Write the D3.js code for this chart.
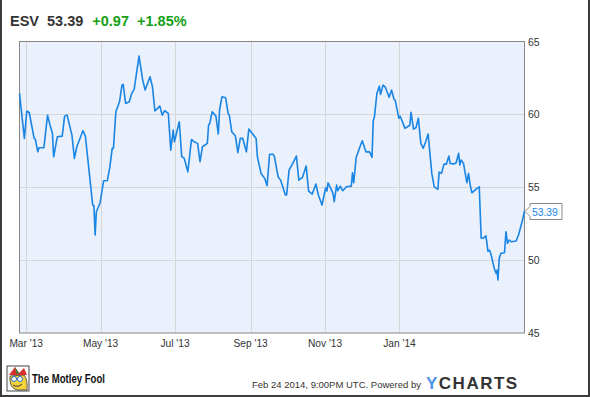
<!DOCTYPE html>
<html>
<head>
<meta charset="utf-8">
<script src="https://cdn.jsdelivr.net/npm/d3@7"></script>
<style>
  body { margin: 0; background: #fff; }
  svg { display: block; font-family: "Liberation Sans", Arial, sans-serif; }
</style>
</head>
<body>
<div id="chart"></div>
<script>
// days since Feb 23 2013 (noon) and closing price
const days = [0, 4, 6, 8, 12, 13, 15, 16, 20, 23, 25, 27, 28, 30, 31, 35, 37, 39, 43, 45,
  47, 52, 54, 60, 61, 62, 63, 66, 69, 72, 74, 76, 77, 79, 82, 84, 85, 87, 90, 92,
  94, 98, 101, 103, 107, 109, 111, 115, 117, 119, 122, 124, 126, 127, 131, 133, 135, 138, 141, 143,
  146, 148, 150, 154, 155, 156, 158, 161, 163, 164, 166, 169, 171, 172, 174, 177, 179, 181, 183, 186,
  188, 194, 195, 198, 201, 203, 205, 208, 209, 212, 214, 218, 219, 221, 224, 227, 229, 232, 235, 237,
  240, 243, 245, 248, 251, 252, 253, 257, 258, 260, 261, 263, 265, 268, 272, 273, 274, 276, 279, 281,
  284, 287, 289, 290, 291, 293, 295, 296, 298, 300, 303, 305, 307, 308, 311, 312, 313, 316, 319, 320,
  321, 323, 325, 327, 329, 331, 333, 335, 338, 340, 343, 344, 346, 348, 350, 352, 353, 356, 358, 360,
  361, 362, 364, 365.4, 366.8, 368.1, 369.5, 370.9, 375, 376.9, 378.5, 379.9, 382.4, 384, 385.3, 386.7, 389.4, 390.8, 391.6, 392.2,
  393.3, 394.7, 397.6, 398.8, 400.1, 401.5, 403.1, 407.2, 409.1, 412.4, 414];
const prices = [61.44, 58.35, 60.23, 60.11, 58.35, 58.28, 57.43, 57.71, 57.71, 59.95, 59.27, 58.70, 57.09, 58.01, 58.46, 58.51, 59.88, 59.95, 58.58, 56.98,
  57.78, 58.88, 58.51, 53.78, 53.73, 51.72, 53.32, 53.90, 55.45, 55.46, 56.34, 57.67, 57.67, 60.18, 60.86, 62.01, 62.06, 60.75, 60.86, 61.44,
  61.71, 64.00, 62.35, 61.67, 62.58, 61.89, 60.23, 60.57, 59.95, 60.25, 60.07, 57.55, 58.92, 58.12, 59.49, 57.09, 57.00, 56.06, 58.28, 58.12,
  58.01, 56.75, 57.78, 58.01, 59.27, 59.38, 60.18, 59.88, 58.65, 60.30, 61.21, 61.14, 60.07, 59.95, 58.81, 58.51, 57.37, 58.35, 58.35, 57.43,
  58.99, 58.35, 57.09, 55.95, 55.61, 55.10, 57.26, 57.26, 57.09, 55.72, 55.49, 54.47, 54.47, 56.18, 56.64, 57.14, 55.49, 55.68, 56.45, 54.74,
  54.53, 55.22, 54.47, 53.78, 54.97, 54.74, 55.31, 54.58, 54.01, 55.15, 54.76, 55.08, 54.76, 55.03, 55.08, 55.99, 55.31, 57.04, 57.74, 58.19,
  57.43, 57.43, 57.05, 59.56, 59.84, 61.44, 61.94, 61.37, 62.01, 61.85, 61.17, 61.67, 61.03, 60.98, 59.73, 59.88, 59.68, 59.04, 59.20, 59.27,
  60.14, 58.99, 59.08, 59.73, 58.01, 57.67, 58.12, 58.65, 55.95, 55.03, 54.86, 56.04, 55.95, 56.59, 56.59, 57.14, 56.64, 56.59, 56.68, 57.33,
  56.52, 56.87, 56.64, 55.95, 55.31, 55.95, 55.15, 54.62, 54.92, 55.03, 51.50, 51.50, 51.67, 50.62, 50.69, 50.35, 49.37, 49.09, 49.32, 48.64,
  50.12, 50.47, 50.51, 51.95, 51.15, 51.38, 51.26, 51.31, 51.72, 52.75, 53.39];
const yTicks = [45, 50, 55, 60, 65];
const xTickLabels = ["Mar '13", "May '13", "Jul '13", "Sep '13", "Nov '13", "Jan '14"];
const ticker = "ESV";
const lastPrice = "53.39";
const change = "+0.97";
const changePct = "+1.85%";
const footerText = "Feb 24 2014, 9:00PM UTC. Powered by";

const width = 590, height = 397;
const plot = { left: 19.5, right: 524.5, top: 41.5, bottom: 333 };

const start = new Date(2013, 1, 23, 12);
const data = days.map((d, i) => ({ date: new Date(start.getTime() + d * 864e5), price: prices[i] }));

const svg = d3.select('#chart').append('svg')
    .attr('width', width)
    .attr('height', height);

const x = d3.scaleTime()
    .domain([start, new Date(start.getTime() + 414 * 864e5)])
    .range([plot.left, plot.right]);
const y = d3.scaleLinear()
    .domain([45, 65])
    .range([plot.bottom, plot.top]);

const fmtMonth = d3.timeFormat("%b '%y");
const monthTicks = x.ticks(d3.timeMonth.every(2))
    .filter(d => xTickLabels.includes(fmtMonth(d)));

// outer frame
svg.append('path')
    .attr('d', `M1,0 V${height - 1} H${width - 1} V0`)
    .attr('fill', 'none')
    .attr('stroke', '#3c3c3c')
    .attr('stroke-width', 2);

// header
const header = svg.append('text')
    .attr('x', 10)
    .attr('y', 26)
    .attr('font-size', 14.5)
    .attr('font-weight', 'bold');
header.append('tspan').attr('fill', '#333').text(ticker);
header.append('tspan').attr('dx', 8).attr('fill', '#333').text(lastPrice);
header.append('tspan').attr('dx', 9).attr('fill', '#17a017').text(change);
header.append('tspan').attr('dx', 8).attr('fill', '#17a017').text(changePct);

// plot background
svg.append('rect')
    .attr('x', plot.left)
    .attr('y', plot.top)
    .attr('width', plot.right - plot.left)
    .attr('height', plot.bottom - plot.top)
    .attr('fill', '#eaf0fc');

svg.append('g')
    .selectAll('line')
    .data(monthTicks)
    .join('line')
        .attr('x1', d => Math.round(x(d)) + 0.5)
        .attr('x2', d => Math.round(x(d)) + 0.5)
        .attr('y1', plot.top)
        .attr('y2', plot.bottom)
        .attr('stroke', '#d6d6d6');

svg.append('g')
    .selectAll('line')
    .data(yTicks.slice(1, -1))
    .join('line')
        .attr('x1', plot.left)
        .attr('x2', plot.right)
        .attr('y1', d => Math.round(y(d)) + 0.5)
        .attr('y2', d => Math.round(y(d)) + 0.5)
        .attr('stroke', '#d6d6d6');

// plot border
svg.append('rect')
    .attr('x', plot.left)
    .attr('y', plot.top)
    .attr('width', plot.right - plot.left)
    .attr('height', plot.bottom - plot.top)
    .attr('fill', 'none')
    .attr('stroke', '#868686');

// x labels
svg.append('g')
    .selectAll('text')
    .data(monthTicks)
    .join('text')
        .attr('x', d => x(d))
        .attr('y', 347)
        .attr('text-anchor', 'middle')
        .attr('font-size', 10.2)
        .attr('fill', '#333')
        .text(d => fmtMonth(d));

// y labels
svg.append('g')
    .selectAll('text')
    .data(yTicks)
    .join('text')
        .attr('x', 528)
        .attr('y', d => y(d) + 4)
        .attr('font-size', 10.5)
        .attr('fill', '#333')
        .text(d => d);

// price line
const line = d3.line()
    .x(d => x(d.date))
    .y(d => y(d.price));

svg.append('path')
    .datum(data)
    .attr('d', line)
    .attr('fill', 'none')
    .attr('stroke', '#1985e4')
    .attr('stroke-width', 1.6)
    .attr('stroke-linejoin', 'round');

// last price callout
const last = data[data.length - 1];
const ly = Math.round(y(last.price)) + 0.5;
const lx = plot.right + 0.5;
svg.append('path')
    .attr('d', `M${lx},${ly} L${lx + 5},${ly - 5} V${ly - 8} H${lx + 37} V${ly + 8} H${lx + 5} V${ly + 5} Z`)
    .attr('fill', '#fff')
    .attr('stroke', '#8a8a8a');
svg.append('text')
    .attr('x', lx + 7)
    .attr('y', ly + 4)
    .attr('font-size', 10.3)
    .attr('fill', '#1985e4')
    .text(lastPrice);

// motley fool logo
const logo = svg.append('g').attr('transform', 'translate(7,366)');
logo.append('rect').attr('width', 22).attr('height', 25).attr('fill', '#fff').attr('stroke', '#444');
logo.append('path').attr('d', 'M3,10 Q2,22 10,24 L20,24 Q21,14 17,9 Z').attr('fill', '#f3d23a').attr('stroke', '#333').attr('stroke-width', 0.8);
logo.append('path').attr('d', 'M2,9 L8,1 L12,7 L17,2 L20,9 Z').attr('fill', '#d8302c');
logo.append('path').attr('d', 'M8,1 L12,7 L10,9 Z').attr('fill', '#2f8a3a');
logo.append('circle').attr('cx', 7).attr('cy', 13).attr('r', 2.5).attr('fill', '#fff').attr('stroke', '#2a6fd0');
logo.append('circle').attr('cx', 13).attr('cy', 13).attr('r', 2.5).attr('fill', '#fff').attr('stroke', '#2a6fd0');
logo.append('path').attr('d', 'M6,19 Q11,22 15,18').attr('fill', 'none').attr('stroke', '#333');

svg.append('text')
    .attr('x', 32)
    .attr('y', 383)
    .attr('font-size', 12)
    .attr('font-weight', 'bold')
    .attr('fill', '#111')
    .attr('textLength', 73)
    .attr('lengthAdjust', 'spacingAndGlyphs')
    .text('The Motley Fool');

// footer
svg.append('text')
    .attr('x', 252)
    .attr('y', 388)
    .attr('font-size', 9.5)
    .attr('fill', '#333')
    .text(footerText);

const brand = svg.append('text')
    .attr('x', 426)
    .attr('y', 389)
    .attr('font-size', 17)
    .attr('font-weight', 'bold')
    .attr('letter-spacing', 1.5);
brand.append('tspan').attr('fill', '#4d94e6').text('Y');
brand.append('tspan').attr('fill', '#333').text('CHARTS');
</script>
</body>
</html>
